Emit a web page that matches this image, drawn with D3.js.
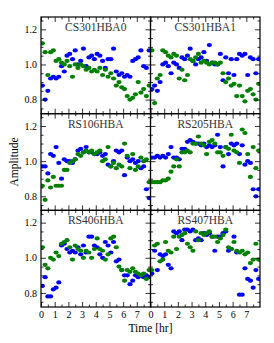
<!DOCTYPE html>
<html>
<head>
<meta charset="utf-8">
<script src="https://cdn.jsdelivr.net/npm/d3@7"></script>
<style>
  body { margin: 0; background: #fff; }
  text { font-family: "Liberation Serif", "DejaVu Serif", serif; }
</style>
</head>
<body>
<script>
// sample times (hr), shared by every panel
var hours = [0.1, 0.3, 0.5, 0.7, 0.9, 1.1, 1.3, 1.5, 1.7, 1.9,
             2.1, 2.3, 2.5, 2.7, 2.9, 3.1, 3.3, 3.5, 3.7, 3.9,
             4.1, 4.3, 4.5, 4.7, 4.9, 5.1, 5.3, 5.5, 5.7, 5.9,
             6.1, 6.3, 6.5, 6.7, 6.9, 7.1, 7.3, 7.5, 7.7, 7.9];

var stations = ["CS301HBA0", "CS301HBA1", "RS106HBA", "RS205HBA", "RS406HBA", "RS407HBA"];

// amplitudes, blue and green series per station
var cs301hba0Blue = [0.88,0.80,0.85,0.92,0.93,0.92,0.93,0.99,0.96,1.05,1.06,1.03,1.08,1.00,1.02,1.09,0.99,1.04,1.05,1.03,
                     1.06,1.05,1.02,0.98,1.03,1.03,1.09,0.96,0.94,0.95,0.93,0.94,0.93,1.02,1.03,1.04,1.08,0.99,0.98,1.08];
var cs301hba0Green = [1.12,1.07,0.94,1.07,1.08,1.02,1.03,1.01,1.00,1.02,0.99,0.93,1.00,0.98,1.00,0.99,0.97,0.98,0.96,0.97,
                      0.96,0.98,0.94,0.97,0.93,0.95,0.92,0.88,0.90,0.87,0.86,0.82,0.80,0.81,0.83,0.90,0.84,0.86,0.82,0.88];
var cs301hba1Blue = [0.86,0.88,0.85,0.90,1.00,1.01,0.99,0.95,1.01,1.00,0.98,1.04,1.03,1.05,1.09,1.02,1.00,1.03,1.04,1.07,
                     1.02,1.11,1.01,1.00,1.00,1.06,0.91,1.04,0.95,1.03,0.94,1.03,1.06,1.05,1.06,0.94,1.04,1.03,0.95,1.03];
var cs301hba1Green = [1.08,0.78,0.92,0.94,1.08,1.07,1.05,1.04,1.06,1.05,0.92,0.97,0.91,0.94,1.03,1.02,1.04,1.06,1.01,1.02,
                      1.01,1.00,1.01,1.01,1.00,1.01,0.95,0.90,0.92,0.88,0.89,0.82,0.88,0.82,0.79,0.85,0.86,0.83,0.80,0.89];
var rs106Blue = [0.97,0.97,0.93,1.04,1.03,1.08,0.99,0.90,1.01,1.00,1.00,0.99,1.01,1.06,1.07,1.05,1.08,1.05,1.05,1.04,
                 1.04,1.05,1.03,1.04,0.98,0.97,1.00,1.06,1.05,1.06,0.92,1.02,1.00,1.01,0.99,1.00,0.96,0.97,0.84,0.79];
var rs106Green = [0.86,0.78,0.89,0.85,0.91,0.86,0.86,0.86,0.95,0.95,0.99,1.00,1.01,1.04,1.03,1.05,1.06,1.05,1.06,1.04,
                  1.05,1.06,1.00,1.01,1.08,0.97,0.99,0.96,0.98,0.97,1.10,1.03,0.96,1.04,0.95,0.97,1.02,1.00,1.01,0.88];
var rs205Blue = [1.02,1.02,1.03,1.02,1.03,1.02,1.04,1.08,1.02,1.02,1.01,1.07,1.07,1.11,1.12,1.11,1.10,1.10,1.09,1.10,
                 1.08,1.09,1.08,1.09,1.15,1.08,0.97,1.08,1.04,1.10,1.09,1.10,1.04,1.09,0.98,1.00,0.99,0.84,0.80,0.84];
var rs205Green = [0.88,0.88,0.88,0.88,0.89,0.89,0.90,0.94,0.97,1.01,0.97,1.05,1.05,1.06,1.05,1.10,1.10,1.14,1.10,1.09,
                  1.04,1.11,1.12,1.10,1.05,1.05,1.03,1.08,1.07,1.15,1.06,1.05,0.99,1.18,1.16,1.04,0.91,1.08,0.96,1.06];
var rs406Blue = [0.84,0.89,0.78,0.78,0.82,0.83,0.86,1.07,1.08,1.05,1.03,1.04,1.03,1.06,1.02,1.07,1.03,1.12,1.12,1.07,
                 1.06,1.02,1.00,1.09,1.07,1.03,1.09,0.98,0.99,0.93,0.90,0.90,0.85,0.87,0.90,0.89,0.90,0.89,0.90,0.89];
var rs406Green = [1.06,0.96,0.94,1.00,0.99,1.03,1.01,1.08,1.09,1.10,1.06,0.99,1.07,1.05,1.04,1.00,1.04,1.03,1.00,1.05,
                  1.11,1.05,1.04,0.99,1.02,1.11,1.12,1.06,0.95,0.93,0.87,0.93,0.92,0.94,0.92,0.91,0.90,0.91,0.88,0.93];
var rs407Blue = [0.91,1.04,0.93,1.02,1.01,1.02,0.96,0.94,1.15,1.14,1.15,1.10,1.16,1.16,1.15,1.16,1.10,1.11,1.10,1.14,
                 1.13,1.14,1.12,1.04,1.12,1.12,1.14,1.15,1.04,1.05,1.12,1.03,0.79,0.79,0.94,0.88,0.87,0.83,0.93,0.88];
var rs407Green = [0.93,1.07,1.08,0.98,0.99,1.09,1.04,1.03,1.12,1.05,1.12,1.13,1.14,1.08,1.06,1.04,1.15,1.10,1.14,1.13,
                  1.14,1.15,1.12,1.12,1.09,1.11,1.13,1.16,1.06,1.05,1.09,1.04,1.03,1.04,1.02,1.03,0.97,0.99,1.08,0.99];

var yTicks = [0.8, 1.0, 1.2];
var yMinor = [0.75, 0.85, 0.9, 0.95, 1.05, 1.1, 1.15, 1.25];
var xTicks = [0, 1, 2, 3, 4, 5, 6, 7];
var xMinor = [0.5, 1.5, 2.5, 3.5, 4.5, 5.5, 6.5, 7.5];

var blues = [cs301hba0Blue, cs301hba1Blue, rs106Blue, rs205Blue, rs406Blue, rs407Blue];
var greens = [cs301hba0Green, cs301hba1Green, rs106Green, rs205Green, rs406Green, rs407Green];

var W = 274, H = 343;
var padLeft = 41, padTop = 17, pw = 109.5, ph = 96.67;

var svg = d3.select("body").append("svg")
        .attr("width", W)
        .attr("height", H);

var x = d3.scaleLinear().domain([0, 8]).range([0, pw]);
var y = d3.scaleLinear().domain([0.72, 1.27]).range([ph, 0]);

stations.forEach(function(name, i) {
    var col = i % 2, row = Math.floor(i / 2);
    var g = svg.append("g")
            .attr("transform", "translate(" + (padLeft + col * pw) + "," + (padTop + row * ph) + ")");

    g.append("clipPath").attr("id", "clip" + i)
        .append("rect").attr("width", pw).attr("height", ph);

    var pts = g.append("g").attr("clip-path", "url(#clip" + i + ")");

    [[blues[i], "#0000ff"], [greens[i], "#008000"]].forEach(function(s) {
        pts.selectAll(null)
            .data(s[0])
            .enter().append("ellipse")
                .attr("cx", function(d, j) { return x(hours[j]); })
                .attr("cy", function(d) { return y(d); })
                .attr("rx", 2.6)
                .attr("ry", 2.1)
                .attr("fill", s[1]);
    });

    // ticks on all four sides, pointing inward
    function ticks(axis, tx, ty, vals, size, labels) {
        var a = axis.tickValues(vals).tickSize(-size).tickPadding(4);
        if (!labels) a.tickFormat("");
        var ag = g.append("g").attr("transform", "translate(" + tx + "," + ty + ")").call(a);
        ag.select(".domain").remove();
        ag.selectAll("line").attr("stroke", "#000").attr("stroke-width", 0.8);
        ag.selectAll("text").attr("font-size", 10).attr("fill", "#000")
            .style("font-family", "'Liberation Serif', serif");
        return ag;
    }
    var fmtY = d3.format(".1f");
    ticks(d3.axisLeft(y).tickFormat(fmtY), 0, 0, yTicks, 5, col == 0);
    ticks(d3.axisLeft(y), 0, 0, yMinor, 2.5, false);
    ticks(d3.axisRight(y), pw, 0, yTicks, 5, false);
    ticks(d3.axisRight(y), pw, 0, yMinor, 2.5, false);
    ticks(d3.axisBottom(x).tickFormat(d3.format("d")), 0, ph, xTicks, 5, row == 2);
    ticks(d3.axisBottom(x), 0, ph, xMinor, 2.5, false);
    ticks(d3.axisTop(x), 0, 0, xTicks, 5, false);
    ticks(d3.axisTop(x), 0, 0, xMinor, 2.5, false);

    g.append("rect")
        .attr("width", pw).attr("height", ph)
        .attr("fill", "none").attr("stroke", "#000").attr("stroke-width", 1.2);

    g.append("text")
        .text(name)
        .attr("x", pw / 2).attr("y", 14)
        .attr("text-anchor", "middle")
        .attr("font-size", 11.5)
        .attr("fill", "#333");
});

svg.append("text")
    .text("Time [hr]")
    .attr("x", padLeft + pw).attr("y", 332)
    .attr("text-anchor", "middle")
    .attr("font-size", 11.5);

svg.append("text")
    .text("Amplitude")
    .attr("transform", "translate(18," + (padTop + 1.5 * ph) + ") rotate(-90)")
    .attr("text-anchor", "middle")
    .attr("font-size", 11.5);
</script>
</body>
</html>
